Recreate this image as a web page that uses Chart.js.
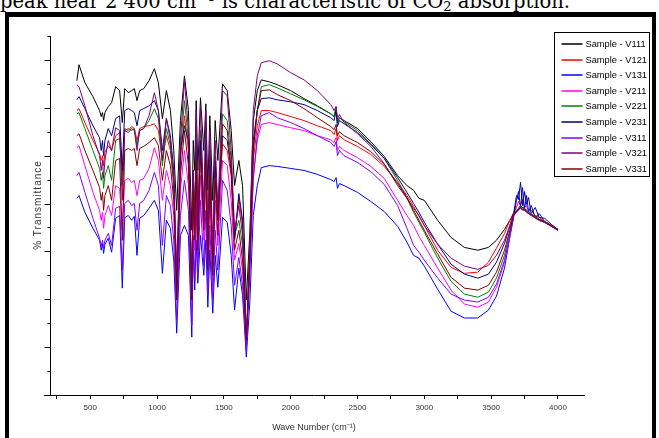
<!DOCTYPE html>
<html>
<head>
<meta charset="utf-8">
<script src="https://cdn.jsdelivr.net/npm/chart.js@4.4.1/dist/chart.umd.min.js"></script>
<style>
  html, body { margin: 0; padding: 0; background: #fff; }
  body { width: 659px; height: 438px; overflow: hidden; position: relative; }
  #cap { position: absolute; left: 0; top: -8px; font-family: 'DejaVu Serif', serif; font-size: 19.5px; line-height: 20px; white-space: nowrap; color: #000; }
  #cap sup { font-size: 13px; line-height: 0; vertical-align: 7px; }
  #cap sub { font-size: 13px; line-height: 0; vertical-align: -3px; }
  #frame { position: absolute; left: 5px; top: 12px; width: 643px; height: 421px; border-left: 4px solid #000; border-top: 5px solid #000; border-right: 4px solid #000; }
  canvas { display: block; }
</style>
</head>
<body>
<div id="cap">peak near 2 400 cm<sup>−1</sup> is characteristic of CO<sub>2</sub> absorption.</div>
<div id="frame"><canvas id="c" width="643" height="421"></canvas></div>
<script>
// ---------- data ----------
const wavenumbers = [400,416,460,520,570,582,592,600,610,635,660,690,720,740,758,785,810,830,850,870,900,940,980,1010,1040,1070,1100,1125,1147,1175,1205,1235,1260,1271,1282,1293,1305,1325,1350,1365,1380,1395,1417,1435,1455,1490,1525,1555,1580,1612,1640,1668,1695,1720,1750,1780,
1840,1900,2000,2100,2200,2300,2325,2340,2350,2365,2400,2500,2600,2700,2800,2870,2920,2960,3000,3100,3200,3300,3400,3480,3540,3600,3640,3670,3690,3705,3720,3735,3750,3765,3780,3800,3830,3860,3900,3950,4000];

const seriesNames = ['Sample - V111','Sample - V121','Sample - V131','Sample - V211','Sample - V221','Sample - V231','Sample - V311','Sample - V321','Sample - V331'];

const v111 = [78.8,82.8,78.3,74.8,71.3,69.8,70.8,68.8,70.8,72.3,73.3,77.3,76.3,68.3,76.8,75.8,76.3,76.8,73.8,76.3,76.8,78.8,81.8,78.3,69.3,76.3,71.3,61.3,46.3,68.8,80,71.3,41.3,63.8,56.3,73.8,56.3,74.5,61.3,73,51.3,70,48.8,68.8,58.8,78,76.3,66.3,52.5,58.8,52.5,23.8,41.3,68.8,76.3,79,
78.5,77.8,76.3,74.3,72.5,70.5,69.8,71.8,68.3,69.5,68.8,66.8,63.5,59.8,55,52.5,51.3,49.3,48.8,43.8,39.5,37,36.3,37,38.8,41.5,43.8,45.5,46.3,46.8,47.5,47,46.8,46.3,45.8,45.3,44.8,44,43.5,42.5,41.5];

const v121 = [71.3,71.8,68.3,63.8,60.5,58.8,60,57.5,60.8,62.5,61.3,65,65.8,55,66.8,66.3,67.3,66.8,63.8,66.8,67.3,67.5,68,66.3,58.8,65,61.3,52.5,28.8,58.8,70,61.3,26.3,55,42.5,62.5,41.3,63.8,45,62.5,33.8,58.8,32.5,57.5,43.8,63,61.3,55,38.8,49.3,42.5,13.8,35,58.8,67.5,71.3,
71.3,70.8,69.8,68.8,67.5,66.3,65.3,66.8,63.8,65,64,62.3,60.3,57.3,53.3,50,47.3,44.8,42.5,36.3,32,30.5,30.8,33.3,36.8,40.5,43.8,45.8,47,48.5,47.5,49,47,47.5,46,46.3,45,44.5,43.5,42.5,41.5];

const v131 = [49.3,50,45.8,41.8,38.8,36.3,38,35.5,37.8,39.3,35.8,44.3,45,26.8,44.5,45,43.8,44.8,35,44.3,45,46.8,48.8,46.3,30.5,43.8,41.8,33.8,15.5,40,42.5,40,14.5,36.3,26.3,38.8,28,40,30,38.8,22,36.3,20.5,35,27,44.5,43.3,35,21.3,31.8,25,9.5,23.8,45,52.5,57,
57.5,57.3,56.8,56.3,55.3,54,53.5,54.5,51.8,53,52.5,50.8,48.5,46,42.3,38.3,35,34.3,32.3,26.5,21,19.3,19.3,21.3,24.8,31.8,39.5,45,48.8,51,47,52,46.5,50,46,47.5,44.5,45.5,43.5,42.5,41.3];

const v211 = [62,62.5,57.5,50.8,46.3,43.8,45.8,41.8,45,47.5,45,52.5,51.8,41.3,53.8,54.3,53.3,53.8,50,53.8,54.3,56.8,62,58.8,48.8,56.3,52.5,45,26.3,51.3,61.3,52.5,23.8,46.3,36.3,55,35,55,38.8,53.8,30,50,27.5,48.8,37.5,58.8,57.5,48.8,33.8,38,31.3,12.5,32.5,55,63.8,67.8,
68.3,67.8,67,66.3,65,64,63.3,64.5,61.3,62.3,61.3,59.5,57.3,54.3,48.8,45,42.5,39.8,37.5,31.8,26.3,22.8,22,23.3,27,33.3,39.8,45,45.8,46.3,46.8,46.5,46.3,45.8,45.5,45,44.5,43.8,43.3,42.3,41.3];

const v221 = [70.5,70.8,66.8,61.3,56.8,53.8,55.8,51.8,55,57.5,53.8,63.8,64.3,52.5,66.3,66.8,66.3,66.8,62.5,66.3,66.8,68.8,71.8,69.3,57.5,66.8,62.5,53.8,28.8,61.3,73.8,63.8,26.3,56.3,43.8,66.3,41.3,66.3,46.3,66.3,35,61.3,33.8,60,45,70.5,68.8,58.8,40,43.8,37.5,13.8,35,61.3,71.3,77.3,
77.8,77,75.5,74,72.3,70.5,69.8,72.3,68.3,69.5,68.5,66.3,63,59.3,53.8,49.3,45.8,43.3,40.8,34.3,28.5,25.3,24.5,25.8,29.3,35,40.8,45.3,46.3,46.8,47.3,47,46.8,46.3,45.8,45.3,44.8,44,43.5,42.5,41.5];

const v231 = [74,74.8,71.8,67.5,64.5,61.3,63.8,60,63.8,66.8,65,69.3,70,56.3,71.3,71.8,71.3,70.8,67.5,71.3,71.8,72.5,73.8,71.3,61.3,69.3,65,56.3,23.8,61.3,67.5,63.8,23.8,56.3,41.3,63.8,38.8,63.8,43.8,63.8,33.8,60,32.5,58.8,43.8,65,63.8,56.3,38.8,50.5,43.8,12.5,36.3,63.8,71.3,74.3,
74.5,74,73.5,72.8,71.3,69.5,68.8,71.3,67.3,68.8,68,65.8,62.8,59.3,54.5,50.8,48,45.8,43.3,37.8,32.8,30.3,29.3,30.3,33.3,38,42.3,45.8,50,49,53.3,47.5,51,47.8,49.5,45.5,47,44.5,44.3,42.8,41.5];

const v311 = [55,55.8,50.8,44.3,39.3,37.3,38.8,36.8,38.8,40.5,37.5,46.8,47.3,31.3,48,48.8,47.5,48,41.3,48,48.8,51.3,55.8,52.5,37.5,50,47.5,38.8,18.8,45,53.8,46.3,17.5,40,28.8,47.5,30,48.8,32.5,46.3,25,42.5,23.8,41.3,31.3,53.8,51.3,42.5,27.5,34.5,27.5,11.3,31.3,53.8,65,70,
70.8,69.5,68.3,66.8,65,63.3,62.3,63.5,60,61.3,60,58.3,56,52.8,47.5,41.8,37.5,35.8,33.8,29.3,25.3,23.8,23.3,24.5,27.8,33.8,40,45,45.8,46.5,46.8,46.3,46.5,45.8,45.5,45.3,44.3,43.8,43.3,42.3,41.3];

const v321 = [77.8,77.3,72.5,65,60,56.3,58.8,54.3,58.8,63.8,61.3,67,66.3,48.8,66.3,65.8,66.8,66.3,61.3,66.3,66.8,70,75.8,71.3,58.8,69.3,63.8,53.8,31.3,63.8,78.8,66.3,23.8,56.3,41.3,71.3,41.3,72.5,46.3,71.3,36.3,66.3,35,63.8,46.3,76.3,75,61.3,41.3,47.5,40,13.8,38.8,71.3,80,83.3,
83.8,83,80.8,79,76.3,72.8,71.3,72.3,69.3,70.3,68.3,65.5,62.3,58,52.5,49.3,46.8,45,42.5,37.8,34.3,32.3,31.5,32.5,35,38.8,42.5,45.5,46,46.5,47,46.8,46.5,46,45.5,45.3,44.5,44,43.3,42.5,41.5];

const v331 = [65,65.5,61.3,56.3,52,48.8,50.8,46.3,50,52.5,48.8,58.8,59.3,38.8,61.3,61.8,61.3,61.8,57.5,61.8,62.3,63.3,64.5,62.5,53.8,61.3,57.5,48.8,23.8,55,66.3,57.5,23.8,51.3,38.8,58.8,36.3,60,41.3,58.8,31.3,55,30,53.8,40,68,66.3,56.3,36.3,41.3,33.8,13.8,35,61.3,71.3,76.3,
76.5,75.3,73.8,71.8,69.5,67.3,66.5,67.8,65,66,65,63.3,61,57.8,53,49.5,46.3,43.8,41.3,35.3,29.5,26.8,26.3,27.5,30.8,36.3,41.3,45.3,46,46.5,47,46.5,46.3,46,45.5,45,44.5,43.8,43.3,42.3,41.3];

const seriesValues = [v111, v121, v131, v211, v221, v231, v311, v321, v331];
const xTickValues = [250,500,750,1000,1250,1500,1750,2000,2250,2500,2750,3000,3250,3500,3750,4000];
const xTickLabels = ['500','1000','1500','2000','2500','3000','3500','4000'];

// ---------- styles ----------
const lineColors = ['#000000','#ff0000','#0000ff','#ff00ff','#008000','#000080','#8000ff','#800080','#800000'];
const FONT = "'Liberation Sans', Arial, sans-serif";

function narrowAvailable() {
  const c = document.createElement('canvas').getContext('2d');
  c.font = "11px monospace";
  const w1 = c.measureText('Sample - V111').width;
  c.font = "11px 'Liberation Sans Narrow', monospace";
  const w2 = c.measureText('Sample - V111').width;
  return Math.abs(w1 - w2) > 0.5;
}
const HAS_NARROW = narrowAvailable();
const LEGEND_FONT = HAS_NARROW ? "11px 'Liberation Sans Narrow', sans-serif" : "9.3px " + FONT;
const XTITLE_FONT = HAS_NARROW ? { size: 10, family: "'Liberation Sans Narrow', sans-serif" } : { size: 9, family: FONT };

const datasets = seriesNames.map((name, i) => ({
  label: name,
  data: wavenumbers.map((w, j) => ({ x: w, y: seriesValues[i][j] })),
  borderColor: lineColors[i],
  backgroundColor: lineColors[i],
  borderWidth: 1,
  pointRadius: 0,
  tension: 0,
  fill: false,
  order: seriesNames.length - 1 - i
}));

const axisAndLegend = {
  id: 'axisAndLegend',
  afterDraw(chart) {
    const ctx = chart.ctx, xs = chart.scales.x, ys = chart.scales.y;
    ctx.save();
    // y axis line placed at wavenumber 200, with long/short tick marks
    const x0 = Math.round(xs.getPixelForValue(200)) + 0.5;
    ctx.strokeStyle = '#000';
    ctx.lineWidth = 1;
    ctx.beginPath();
    ctx.moveTo(x0, Math.round(ys.getPixelForValue(ys.max)));
    ctx.lineTo(x0, Math.round(ys.getPixelForValue(ys.min)));
    ys.ticks.forEach(t => {
      if (t.value === 0) return;
      const y = Math.round(ys.getPixelForValue(t.value)) + 0.5;
      const len = (t.value % 12 === 0) ? 6 : 3;
      ctx.moveTo(x0 - len, y);
      ctx.lineTo(x0, y);
    });
    ctx.stroke();

    // y axis title
    ctx.save();
    ctx.translate(29.5, 188);
    ctx.rotate(-Math.PI / 2);
    ctx.font = '10px ' + FONT;
    if ('letterSpacing' in ctx) ctx.letterSpacing = '1px';
    ctx.fillStyle = '#333';
    ctx.textAlign = 'center';
    ctx.textBaseline = 'middle';
    ctx.fillText('% Transmittance', 0, 0);
    ctx.restore();

    // legend box
    const bx = chart.chartArea.right - 29.5, by = chart.chartArea.top - 3.5, bw = 95, bh = 144;
    ctx.fillStyle = '#fff';
    ctx.fillRect(bx, by, bw, bh);
    ctx.strokeStyle = '#000';
    ctx.lineWidth = 1;
    ctx.strokeRect(bx, by, bw, bh);
    ctx.font = LEGEND_FONT;
    ctx.textBaseline = 'middle';
    ctx.textAlign = 'left';
    chart.data.datasets.forEach((ds, i) => {
      const y = by + 11.5 + i * 15.6;
      ctx.strokeStyle = ds.borderColor;
      ctx.lineWidth = 1.5;
      ctx.beginPath();
      ctx.moveTo(bx + 7, Math.round(y));
      ctx.lineTo(bx + 28, Math.round(y));
      ctx.stroke();
      ctx.fillStyle = '#000';
      ctx.fillText(ds.label, bx + 31, y + 0.5);
    });
    ctx.restore();
  }
};

new Chart(document.getElementById('c'), {
  type: 'line',
  data: { datasets },
  options: {
    responsive: false,
    animation: false,
    devicePixelRatio: 1,
    events: [],
    layout: { padding: { top: 19, right: 68, left: 0, bottom: 0 } },
    plugins: { legend: { display: false }, tooltip: { enabled: false } },
    scales: {
      x: {
        type: 'linear',
        min: 154,
        max: 4195,
        afterBuildTicks: s => { s.ticks = xTickValues.map(v => ({ value: v })); },
        afterFit: s => { s.height = 43; },
        border: { display: true, color: '#000', width: 1 },
        grid: { drawOnChartArea: false, drawTicks: true, tickLength: 4, color: '#000' },
        ticks: {
          autoSkip: false, maxRotation: 0, minRotation: 0,
          padding: 4, color: '#333', font: { size: 8, family: FONT },
          callback: v => xTickLabels.includes(String(v)) ? String(v) : ''
        },
        title: { display: true, text: 'Wave Number (cm⁻¹)', color: '#333', font: XTITLE_FONT, padding: { top: 0, bottom: 5 } }
      },
      y: {
        min: 0,
        max: 90,
        afterFit: s => { s.width = 35; },
        border: { display: false },
        grid: { display: false },
        ticks: { display: false, stepSize: 6 },
        title: { display: false }
      }
    }
  },
  plugins: [axisAndLegend]
});
</script>
</body>
</html>
